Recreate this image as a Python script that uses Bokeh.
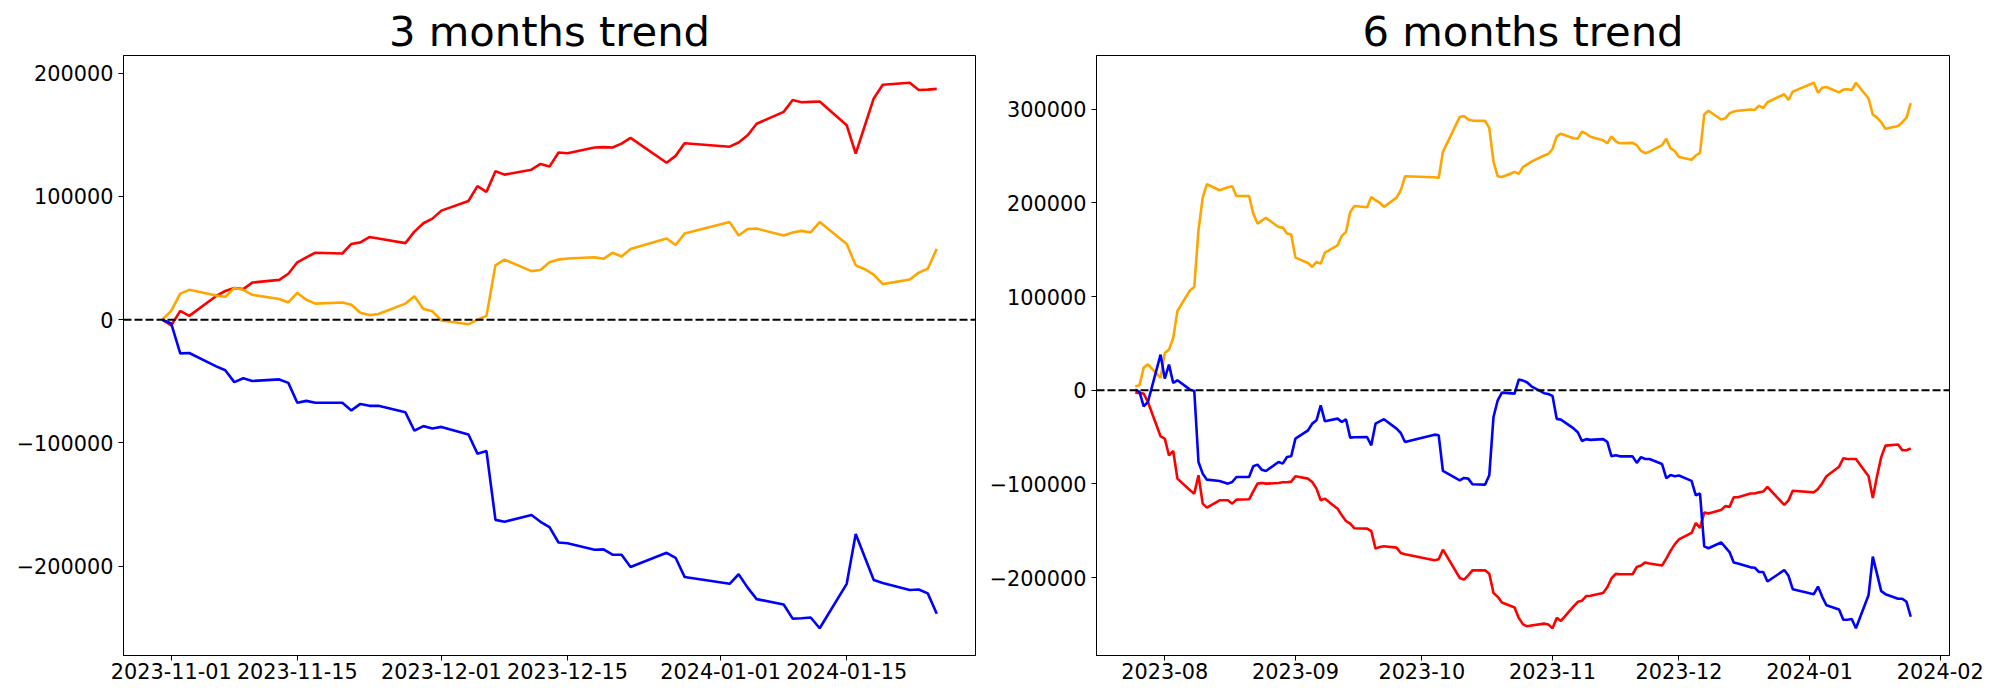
import pandas as pd
from bokeh.plotting import figure
from bokeh.models import Range1d, FixedTicker, CustomJSTickFormatter, Span, ColumnDataSource
from bokeh.layouts import row
from bokeh.embed import file_html
from bokeh.resources import INLINE

# ---------------- data ----------------
# trading days (weekdays without market holidays) from 2023-07-25 to 2024-01-25
holidays = ["2023-08-15", "2023-09-28", "2023-09-29", "2023-10-02", "2023-10-03",
            "2023-10-09", "2023-12-25", "2023-12-29", "2024-01-01"]
dates_6m = [d for d in pd.bdate_range("2023-07-25", "2024-01-25")
            if d.strftime("%Y-%m-%d") not in holidays]
dates_3m = [d for d in dates_6m if d >= pd.Timestamp("2023-10-31")]

red_3m = [0, -4660, 7140, 3110, 19260, 23300, 25780, 24850, 30130, 32300,
          37270, 46590, 50630, 54360, 53730, 61500, 62740, 67090, 65850, 62120,
          71440, 78270, 82000, 88520, 96290, 108400, 103740, 120510, 117720, 121760,
          126410, 124240, 135730, 135110, 139770, 140080, 139770, 142880, 147540, 127350,
          132940, 143190, 140390, 143810, 149710, 159030, 168660, 178280, 176420, 176730,
          177040, 157780, 134800, 157160, 179530, 190710, 192260, 186360, 186670, 187290]
orange_3m = [0, 7140, 21120, 24230, 19570, 18640, 25780, 24230, 20190, 16770,
             13980, 21740, 16150, 13050, 13980, 12110, 5590, 3730, 4660, 13050,
             18950, 8700, 6830, -620, -3730, 0, 3110, 44110, 48760, 39450,
             40380, 46590, 48760, 49700, 50630, 49390, 54360, 51250, 57460, 65850,
             60570, 69890, 79200, 68330, 73610, 73920, 68330, 70820, 72060, 70820,
             79200, 61500, 44110, 41000, 36650, 28890, 32610, 38200, 41310, 57460]
blue_3m = [0, -3110, -27330, -27020, -37890, -41000, -50630, -47520, -49700, -48450,
           -51250, -67400, -65850, -67400, -67400, -73610, -68330, -69890, -69890, -75170,
           -90070, -86350, -88210, -86970, -93180, -108710, -106540, -162440, -164000, -158410,
           -164000, -168350, -180770, -181390, -186670, -186360, -190710, -190710, -200650, -189160,
           -193200, -208720, -214310, -206550, -217420, -226740, -231090, -242580, -242270, -241650,
           -250350, -214310, -173940, -192580, -211210, -213700, -219290, -218980, -222090, -238550]

orange_6m = [4270, 5340, 24190, 27750, 13160, 39850, 43410, 55860, 84680, 106740,
             110300, 170780, 205650, 219880, 213480, 216680, 217750, 207430, 207430, 188570,
             177900, 181100, 183950, 174340, 173630, 167230, 166160, 141610, 135920, 131650,
             136980, 135200, 146950, 154770, 164740, 169010, 190350, 196760, 195330, 206360,
             202810, 200310, 195690, 205650, 213480, 228420, 227360, 226640, 254400, 291760,
             292820, 288910, 287840, 287490, 280010, 243720, 228420, 227710, 233050, 230910,
             238320, 241180, 244040, 250570, 252210, 257520, 271000, 273860, 268960, 268550,
             275900, 273860, 270590, 266910, 263650, 271000, 265690, 263650, 264050, 261600,
             255470, 253020, 254660, 261600, 268550, 258340, 255470, 248940, 246080, 250570,
             253430, 294280, 298370, 288970, 290200, 295510, 297550, 298370, 299590, 299190,
             303680, 301230, 307360, 315930, 309810, 318790, 328190, 317570, 322880, 323700,
             317980, 320840, 321240, 320430, 328190, 311440, 294280, 291020, 286110, 279170,
             282030, 286110, 291020, 306540]
red_6m = [-2490, -2850, -3560, -12450, -49100, -51590, -69380, -64760, -94290, -106740,
          -110300, -90730, -120970, -125240, -117410, -117410, -120970, -116700, -116350, -107810,
          -99620, -98910, -99620, -98910, -98200, -98200, -97490, -91800, -94290, -97850,
          -104960, -117410, -115640, -126310, -133430, -139470, -142320, -147300, -147660, -150150,
          -169010, -167230, -166510, -167940, -173630, -175050, -181460, -180390, -170070, -200310,
          -202090, -197470, -192130, -192130, -195690, -216340, -220430, -226550, -231860, -242890,
          -249840, -251880, -251070, -249020, -249840, -253920, -242890, -246160, -230640, -225740,
          -224510, -219610, -219200, -216340, -210210, -200820, -195920, -196330, -196330, -188560,
          -186930, -183660, -184890, -186930, -179580, -171410, -164460, -159150, -152210, -141590,
          -146900, -130560, -131370, -127700, -123610, -124430, -114220, -114220, -110130, -110130,
          -108910, -108090, -103190, -122390, -117480, -107270, -108910, -105230, -99100, -91750,
          -81540, -72550, -73370, -73370, -73370, -91750, -115040, -91750, -71320, -59070,
          -57840, -63970, -63970, -61930]
blue_6m = [710, -1780, -17080, -12450, 38070, 12450, 27400, 7830, 10670, 710,
           -710, -76500, -88950, -95350, -96780, -99620, -97850, -92510, -92510, -81120,
           -79340, -84680, -86100, -76500, -78280, -71160, -70450, -51590, -42700, -35580,
           -32020, -16010, -33090, -30240, -33800, -30950, -50520, -50170, -49810, -58710,
           -35580, -33090, -30950, -40920, -45540, -55150, -47320, -48030, -86100, -96070,
           -93580, -94290, -100340, -100690, -90730, -28460, -10670, -2490, -3560, 11390,
           10380, 8330, 4250, -3100, -3920, -5960, -30470, -31290, -40690, -44770,
           -54170, -52120, -52940, -52120, -54980, -70510, -69280, -70510, -70510, -77450,
           -71320, -73370, -73370, -78680, -93790, -90520, -91750, -90930, -96650, -112170,
           -110130, -166500, -168550, -162420, -167320, -172630, -183660, -184890, -188970, -189380,
           -193870, -193870, -204090, -191830, -197960, -212260, -217570, -209400, -220430, -229410,
           -233910, -244940, -244940, -244120, -253920, -218380, -177530, -195920, -214300, -217570,
           -222470, -222470, -225740, -241670]

yticks_3m = [-200000, -100000, 0, 100000, 200000]
yticks_6m = [-200000, -100000, 0, 100000, 200000, 300000]
xticks_3m = ["2023-11-01", "2023-11-15", "2023-12-01", "2023-12-15", "2024-01-01", "2024-01-15"]
xticks_6m = ["2023-08-01", "2023-09-01", "2023-10-01", "2023-11-01", "2023-12-01",
             "2024-01-01", "2024-02-01"]

assert len(dates_3m) == len(red_3m) == len(orange_3m) == len(blue_3m)
assert len(dates_6m) == len(red_6m) == len(orange_6m) == len(blue_6m)

FONT = "DejaVu Sans"
TICK_SIZE = "20.8px"
LINE_W = 2.6


def ms(s):
    return pd.Timestamp(s).value // 10**6


def make(title, dates, red, orange, blue, yticks, xticks, nchar, width, bl, br):
    ys = red + orange + blue
    ymin, ymax = min(ys), max(ys)
    ypad = 0.05 * (ymax - ymin)
    x0, x1 = dates[0], dates[-1]
    xpad = (x1 - x0) * 0.05
    p = figure(width=width, height=698, output_backend="svg", toolbar_location=None,
               x_axis_type="datetime",
               x_range=Range1d(x0 - xpad, x1 + xpad),
               y_range=Range1d(ymin - ypad, ymax + ypad),
               min_border_left=bl, min_border_right=br,
               min_border_top=55, min_border_bottom=43)
    p.title.text = title
    p.title.align = "center"
    p.title.text_font = FONT
    p.title.text_font_size = "41.7px"
    p.title.text_font_style = "normal"
    p.title.text_color = "black"
    p.title.standoff = 0
    p.xgrid.visible = False
    p.ygrid.visible = False
    p.outline_line_color = "black"
    p.outline_line_width = 1
    p.background_fill_color = "white"
    p.border_fill_color = "white"

    src = ColumnDataSource(dict(x=dates, red=red, orange=orange, blue=blue))
    p.line("x", "red", source=src, line_color="red", line_width=LINE_W)
    p.line("x", "orange", source=src, line_color="orange", line_width=LINE_W)
    p.line("x", "blue", source=src, line_color="blue", line_width=LINE_W)
    p.add_layout(Span(location=0, dimension="width", line_color="black",
                      line_width=2.1, line_dash="8 3"))

    for ax in (p.xaxis[0], p.yaxis[0]):
        ax.axis_line_color = "black"
        ax.axis_line_width = 1
        ax.major_tick_line_color = "black"
        ax.major_tick_line_width = 1
        ax.major_tick_out = 5
        ax.major_tick_in = 0
        ax.minor_tick_line_color = None
        ax.major_label_standoff = 5
        ax.major_label_text_font = FONT
        ax.major_label_text_font_size = TICK_SIZE
        ax.major_label_text_color = "black"
        ax.major_label_text_font_style = "normal"
    p.xaxis[0].major_label_standoff = 2

    p.yaxis[0].ticker = FixedTicker(ticks=yticks)
    p.yaxis[0].formatter = CustomJSTickFormatter(
        code='return (tick < 0 ? "\\u2212" : "") + Math.abs(Math.round(tick)).toString();')
    p.xaxis[0].ticker = FixedTicker(ticks=[ms(t) for t in xticks])
    p.xaxis[0].formatter = CustomJSTickFormatter(
        code="return new Date(tick).toISOString().slice(0, %d);" % nchar)
    return p


p1 = make("3 months trend", dates_3m, red_3m, orange_3m, blue_3m,
          yticks_3m, xticks_3m, 10, 985, 123, 10)
p2 = make("6 months trend", dates_6m, red_6m, orange_6m, blue_6m,
          yticks_6m, xticks_6m, 7, 1010, 111, 46)

layout = row(p1, p2, spacing=0)
with open("out.html", "w", encoding="utf-8") as f:
    f.write(file_html(layout, INLINE))
